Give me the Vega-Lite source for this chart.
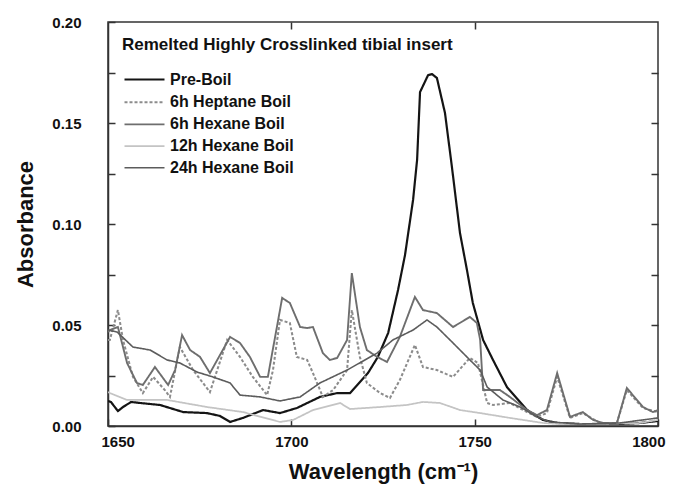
{
  "$schema": "https://vega.github.io/schema/vega-lite/v6.json",
  "width": 550,
  "height": 404,
  "autosize": {"type": "none"},
  "padding": {"left": 108, "top": 22, "right": 17, "bottom": 66},
  "background": "white",
  "config": {
    "font": "Liberation Sans",
    "view": {"stroke": "#333", "strokeWidth": 1.5},
    "axis": {"grid": false, "domainColor": "#333", "domainWidth": 1.5, "tickColor": "#333", "tickWidth": 1.5, "labelColor": "#111", "titleColor": "#111", "labelFont": "Liberation Sans", "titleFont": "Liberation Sans", "labelFontWeight": "bold", "titleFontWeight": "bold", "labelFontSize": 15, "titleFontSize": 22}
  },
  "title": {"text": "Remelted Highly Crosslinked tibial insert", "anchor": "start", "frame": "group", "offset": -39, "dx": 14, "fontSize": 17, "fontWeight": "bold", "font": "Liberation Sans", "color": "#111"},
  "data": {"values": [
    {"series":"Pre-Boil","wavenumber":1650,"absorbance":0.0124},
    {"series":"Pre-Boil","wavenumber":1650.8,"absorbance":0.0119},
    {"series":"Pre-Boil","wavenumber":1652.7,"absorbance":0.0074},
    {"series":"Pre-Boil","wavenumber":1654.1,"absorbance":0.0094},
    {"series":"Pre-Boil","wavenumber":1656.3,"absorbance":0.0119},
    {"series":"Pre-Boil","wavenumber":1658.7,"absorbance":0.0114},
    {"series":"Pre-Boil","wavenumber":1664.2,"absorbance":0.0104},
    {"series":"Pre-Boil","wavenumber":1670.5,"absorbance":0.0069},
    {"series":"Pre-Boil","wavenumber":1677,"absorbance":0.0064},
    {"series":"Pre-Boil","wavenumber":1680.5,"absorbance":0.005},
    {"series":"Pre-Boil","wavenumber":1683.3,"absorbance":0.002},
    {"series":"Pre-Boil","wavenumber":1686.8,"absorbance":0.004},
    {"series":"Pre-Boil","wavenumber":1692.3,"absorbance":0.0079},
    {"series":"Pre-Boil","wavenumber":1696.9,"absorbance":0.0064},
    {"series":"Pre-Boil","wavenumber":1701.5,"absorbance":0.0089},
    {"series":"Pre-Boil","wavenumber":1707.8,"absorbance":0.0144},
    {"series":"Pre-Boil","wavenumber":1712.5,"absorbance":0.0163},
    {"series":"Pre-Boil","wavenumber":1716,"absorbance":0.0163},
    {"series":"Pre-Boil","wavenumber":1720.9,"absorbance":0.0262},
    {"series":"Pre-Boil","wavenumber":1723.6,"absorbance":0.0342},
    {"series":"Pre-Boil","wavenumber":1726.4,"absorbance":0.046},
    {"series":"Pre-Boil","wavenumber":1729.1,"absorbance":0.0673},
    {"series":"Pre-Boil","wavenumber":1731,"absorbance":0.0846},
    {"series":"Pre-Boil","wavenumber":1733.2,"absorbance":0.1119},
    {"series":"Pre-Boil","wavenumber":1734.3,"absorbance":0.1317},
    {"series":"Pre-Boil","wavenumber":1735.1,"absorbance":0.1653},
    {"series":"Pre-Boil","wavenumber":1737.3,"absorbance":0.1737},
    {"series":"Pre-Boil","wavenumber":1738.4,"absorbance":0.1742},
    {"series":"Pre-Boil","wavenumber":1739.7,"absorbance":0.1723},
    {"series":"Pre-Boil","wavenumber":1741.9,"absorbance":0.155},
    {"series":"Pre-Boil","wavenumber":1743.8,"absorbance":0.1282},
    {"series":"Pre-Boil","wavenumber":1746,"absorbance":0.0955},
    {"series":"Pre-Boil","wavenumber":1747.9,"absorbance":0.0772},
    {"series":"Pre-Boil","wavenumber":1749.5,"absorbance":0.0609},
    {"series":"Pre-Boil","wavenumber":1752.3,"absorbance":0.0426},
    {"series":"Pre-Boil","wavenumber":1755,"absorbance":0.0327},
    {"series":"Pre-Boil","wavenumber":1758.8,"absorbance":0.0193},
    {"series":"Pre-Boil","wavenumber":1764.3,"absorbance":0.0079},
    {"series":"Pre-Boil","wavenumber":1768.6,"absorbance":0.003},
    {"series":"Pre-Boil","wavenumber":1772.5,"absorbance":0.0015},
    {"series":"Pre-Boil","wavenumber":1778.7,"absorbance":0.001},
    {"series":"Pre-Boil","wavenumber":1789.6,"absorbance":0.001},
    {"series":"Pre-Boil","wavenumber":1795.1,"absorbance":0.0015},
    {"series":"Pre-Boil","wavenumber":1800,"absorbance":0.0025},
    {"series":"6h Heptane Boil","wavenumber":1650,"absorbance":0.0426},
    {"series":"6h Heptane Boil","wavenumber":1650.5,"absorbance":0.0426},
    {"series":"6h Heptane Boil","wavenumber":1652.7,"absorbance":0.0574},
    {"series":"6h Heptane Boil","wavenumber":1654.1,"absorbance":0.0426},
    {"series":"6h Heptane Boil","wavenumber":1656.8,"absorbance":0.0243},
    {"series":"6h Heptane Boil","wavenumber":1659.5,"absorbance":0.0163},
    {"series":"6h Heptane Boil","wavenumber":1662.3,"absorbance":0.0243},
    {"series":"6h Heptane Boil","wavenumber":1665.5,"absorbance":0.0178},
    {"series":"6h Heptane Boil","wavenumber":1666.9,"absorbance":0.0144},
    {"series":"6h Heptane Boil","wavenumber":1669.6,"absorbance":0.0391},
    {"series":"6h Heptane Boil","wavenumber":1673.2,"absorbance":0.0277},
    {"series":"6h Heptane Boil","wavenumber":1677.8,"absorbance":0.0168},
    {"series":"6h Heptane Boil","wavenumber":1682.5,"absorbance":0.0426},
    {"series":"6h Heptane Boil","wavenumber":1686,"absorbance":0.0342},
    {"series":"6h Heptane Boil","wavenumber":1689.5,"absorbance":0.0243},
    {"series":"6h Heptane Boil","wavenumber":1693.4,"absorbance":0.0153},
    {"series":"6h Heptane Boil","wavenumber":1695,"absorbance":0.0277},
    {"series":"6h Heptane Boil","wavenumber":1696.9,"absorbance":0.0525},
    {"series":"6h Heptane Boil","wavenumber":1699.6,"absorbance":0.051},
    {"series":"6h Heptane Boil","wavenumber":1701.5,"absorbance":0.0342},
    {"series":"6h Heptane Boil","wavenumber":1704.3,"absorbance":0.0327},
    {"series":"6h Heptane Boil","wavenumber":1705.9,"absorbance":0.0262},
    {"series":"6h Heptane Boil","wavenumber":1708.6,"absorbance":0.0144},
    {"series":"6h Heptane Boil","wavenumber":1711.4,"absorbance":0.0178},
    {"series":"6h Heptane Boil","wavenumber":1715.2,"absorbance":0.0277},
    {"series":"6h Heptane Boil","wavenumber":1716.5,"absorbance":0.0574},
    {"series":"6h Heptane Boil","wavenumber":1718.7,"absorbance":0.0342},
    {"series":"6h Heptane Boil","wavenumber":1720.6,"absorbance":0.0213},
    {"series":"6h Heptane Boil","wavenumber":1724.2,"absorbance":0.0163},
    {"series":"6h Heptane Boil","wavenumber":1726.9,"absorbance":0.0139},
    {"series":"6h Heptane Boil","wavenumber":1729.6,"absorbance":0.0228},
    {"series":"6h Heptane Boil","wavenumber":1733.7,"absorbance":0.0401},
    {"series":"6h Heptane Boil","wavenumber":1735.9,"absorbance":0.0292},
    {"series":"6h Heptane Boil","wavenumber":1739.7,"absorbance":0.0277},
    {"series":"6h Heptane Boil","wavenumber":1744.1,"absorbance":0.0243},
    {"series":"6h Heptane Boil","wavenumber":1748.7,"absorbance":0.0337},
    {"series":"6h Heptane Boil","wavenumber":1750.9,"absorbance":0.0312},
    {"series":"6h Heptane Boil","wavenumber":1753.4,"absorbance":0.0114},
    {"series":"6h Heptane Boil","wavenumber":1755,"absorbance":0.0104},
    {"series":"6h Heptane Boil","wavenumber":1759.6,"absorbance":0.0114},
    {"series":"6h Heptane Boil","wavenumber":1764.3,"absorbance":0.0069},
    {"series":"6h Heptane Boil","wavenumber":1767,"absorbance":0.0045},
    {"series":"6h Heptane Boil","wavenumber":1769.7,"absorbance":0.0064},
    {"series":"6h Heptane Boil","wavenumber":1772.5,"absorbance":0.0243},
    {"series":"6h Heptane Boil","wavenumber":1776,"absorbance":0.004},
    {"series":"6h Heptane Boil","wavenumber":1779.5,"absorbance":0.0064},
    {"series":"6h Heptane Boil","wavenumber":1784.2,"absorbance":0.0015},
    {"series":"6h Heptane Boil","wavenumber":1788.8,"absorbance":0.0015},
    {"series":"6h Heptane Boil","wavenumber":1791.5,"absorbance":0.0178},
    {"series":"6h Heptane Boil","wavenumber":1795.9,"absorbance":0.0089},
    {"series":"6h Heptane Boil","wavenumber":1800,"absorbance":0.0069},
    {"series":"6h Hexane Boil","wavenumber":1650,"absorbance":0.0465},
    {"series":"6h Hexane Boil","wavenumber":1650.5,"absorbance":0.0475},
    {"series":"6h Hexane Boil","wavenumber":1652.7,"absorbance":0.049},
    {"series":"6h Hexane Boil","wavenumber":1655.2,"absorbance":0.0312},
    {"series":"6h Hexane Boil","wavenumber":1657.9,"absorbance":0.0213},
    {"series":"6h Hexane Boil","wavenumber":1659.5,"absorbance":0.0203},
    {"series":"6h Hexane Boil","wavenumber":1662.8,"absorbance":0.0292},
    {"series":"6h Hexane Boil","wavenumber":1666.4,"absorbance":0.0203},
    {"series":"6h Hexane Boil","wavenumber":1668.3,"absorbance":0.0277},
    {"series":"6h Hexane Boil","wavenumber":1670.2,"absorbance":0.045},
    {"series":"6h Hexane Boil","wavenumber":1672.4,"absorbance":0.0376},
    {"series":"6h Hexane Boil","wavenumber":1675.1,"absorbance":0.0342},
    {"series":"6h Hexane Boil","wavenumber":1677.8,"absorbance":0.0262},
    {"series":"6h Hexane Boil","wavenumber":1683.3,"absorbance":0.0441},
    {"series":"6h Hexane Boil","wavenumber":1686,"absorbance":0.0411},
    {"series":"6h Hexane Boil","wavenumber":1688.7,"absorbance":0.0342},
    {"series":"6h Hexane Boil","wavenumber":1691.5,"absorbance":0.0243},
    {"series":"6h Hexane Boil","wavenumber":1693.6,"absorbance":0.0243},
    {"series":"6h Hexane Boil","wavenumber":1697.5,"absorbance":0.0634},
    {"series":"6h Hexane Boil","wavenumber":1699.6,"absorbance":0.0609},
    {"series":"6h Hexane Boil","wavenumber":1702.4,"absorbance":0.049},
    {"series":"6h Hexane Boil","wavenumber":1704.3,"absorbance":0.0485},
    {"series":"6h Hexane Boil","wavenumber":1705.9,"absorbance":0.049},
    {"series":"6h Hexane Boil","wavenumber":1708.6,"absorbance":0.0361},
    {"series":"6h Hexane Boil","wavenumber":1710.5,"absorbance":0.0327},
    {"series":"6h Hexane Boil","wavenumber":1712.5,"absorbance":0.0337},
    {"series":"6h Hexane Boil","wavenumber":1715.2,"absorbance":0.0426},
    {"series":"6h Hexane Boil","wavenumber":1716.5,"absorbance":0.0757},
    {"series":"6h Hexane Boil","wavenumber":1718.7,"absorbance":0.049},
    {"series":"6h Hexane Boil","wavenumber":1720.6,"absorbance":0.0376},
    {"series":"6h Hexane Boil","wavenumber":1723.4,"absorbance":0.0342},
    {"series":"6h Hexane Boil","wavenumber":1726.1,"absorbance":0.0317},
    {"series":"6h Hexane Boil","wavenumber":1729.6,"absorbance":0.0441},
    {"series":"6h Hexane Boil","wavenumber":1733.7,"absorbance":0.0639},
    {"series":"6h Hexane Boil","wavenumber":1735.9,"absorbance":0.0574},
    {"series":"6h Hexane Boil","wavenumber":1739.7,"absorbance":0.0559},
    {"series":"6h Hexane Boil","wavenumber":1744.1,"absorbance":0.049},
    {"series":"6h Hexane Boil","wavenumber":1748.7,"absorbance":0.054},
    {"series":"6h Hexane Boil","wavenumber":1750.6,"absorbance":0.051},
    {"series":"6h Hexane Boil","wavenumber":1751.5,"absorbance":0.0426},
    {"series":"6h Hexane Boil","wavenumber":1752.3,"absorbance":0.0178},
    {"series":"6h Hexane Boil","wavenumber":1756.9,"absorbance":0.0178},
    {"series":"6h Hexane Boil","wavenumber":1759.6,"absorbance":0.0144},
    {"series":"6h Hexane Boil","wavenumber":1764.3,"absorbance":0.0079},
    {"series":"6h Hexane Boil","wavenumber":1767,"absorbance":0.0054},
    {"series":"6h Hexane Boil","wavenumber":1769.7,"absorbance":0.0079},
    {"series":"6h Hexane Boil","wavenumber":1772.5,"absorbance":0.0262},
    {"series":"6h Hexane Boil","wavenumber":1776,"absorbance":0.0045},
    {"series":"6h Hexane Boil","wavenumber":1779.5,"absorbance":0.0069},
    {"series":"6h Hexane Boil","wavenumber":1782.3,"absorbance":0.003},
    {"series":"6h Hexane Boil","wavenumber":1785,"absorbance":0.0015},
    {"series":"6h Hexane Boil","wavenumber":1788.8,"absorbance":0.0015},
    {"series":"6h Hexane Boil","wavenumber":1791.5,"absorbance":0.0188},
    {"series":"6h Hexane Boil","wavenumber":1795.9,"absorbance":0.0094},
    {"series":"6h Hexane Boil","wavenumber":1798.6,"absorbance":0.0069},
    {"series":"6h Hexane Boil","wavenumber":1800,"absorbance":0.0079},
    {"series":"12h Hexane Boil","wavenumber":1650,"absorbance":0.0168},
    {"series":"12h Hexane Boil","wavenumber":1650.5,"absorbance":0.0163},
    {"series":"12h Hexane Boil","wavenumber":1655.2,"absorbance":0.0129},
    {"series":"12h Hexane Boil","wavenumber":1666.1,"absorbance":0.0129},
    {"series":"12h Hexane Boil","wavenumber":1677,"absorbance":0.0094},
    {"series":"12h Hexane Boil","wavenumber":1686.8,"absorbance":0.0069},
    {"series":"12h Hexane Boil","wavenumber":1696.9,"absorbance":0.002},
    {"series":"12h Hexane Boil","wavenumber":1700.5,"absorbance":0.003},
    {"series":"12h Hexane Boil","wavenumber":1705.9,"absorbance":0.0079},
    {"series":"12h Hexane Boil","wavenumber":1713.3,"absorbance":0.0114},
    {"series":"12h Hexane Boil","wavenumber":1716,"absorbance":0.0084},
    {"series":"12h Hexane Boil","wavenumber":1724.2,"absorbance":0.0094},
    {"series":"12h Hexane Boil","wavenumber":1731.5,"absorbance":0.0104},
    {"series":"12h Hexane Boil","wavenumber":1735.9,"absorbance":0.0119},
    {"series":"12h Hexane Boil","wavenumber":1740.5,"absorbance":0.0114},
    {"series":"12h Hexane Boil","wavenumber":1746,"absorbance":0.0079},
    {"series":"12h Hexane Boil","wavenumber":1751.5,"absorbance":0.0064},
    {"series":"12h Hexane Boil","wavenumber":1759.6,"absorbance":0.004},
    {"series":"12h Hexane Boil","wavenumber":1768.6,"absorbance":0.0015},
    {"series":"12h Hexane Boil","wavenumber":1773.3,"absorbance":0.001},
    {"series":"12h Hexane Boil","wavenumber":1784.2,"absorbance":0.001},
    {"series":"12h Hexane Boil","wavenumber":1795.1,"absorbance":0.0015},
    {"series":"12h Hexane Boil","wavenumber":1800,"absorbance":0.003},
    {"series":"24h Hexane Boil","wavenumber":1650,"absorbance":0.0475},
    {"series":"24h Hexane Boil","wavenumber":1652.5,"absorbance":0.0465},
    {"series":"24h Hexane Boil","wavenumber":1656.8,"absorbance":0.0391},
    {"series":"24h Hexane Boil","wavenumber":1661.5,"absorbance":0.0376},
    {"series":"24h Hexane Boil","wavenumber":1666.1,"absorbance":0.0327},
    {"series":"24h Hexane Boil","wavenumber":1669.6,"absorbance":0.0312},
    {"series":"24h Hexane Boil","wavenumber":1674.3,"absorbance":0.0267},
    {"series":"24h Hexane Boil","wavenumber":1678.6,"absorbance":0.0243},
    {"series":"24h Hexane Boil","wavenumber":1683.3,"absorbance":0.0213},
    {"series":"24h Hexane Boil","wavenumber":1686,"absorbance":0.0153},
    {"series":"24h Hexane Boil","wavenumber":1691.5,"absorbance":0.0144},
    {"series":"24h Hexane Boil","wavenumber":1696.9,"absorbance":0.0124},
    {"series":"24h Hexane Boil","wavenumber":1702.4,"absorbance":0.0144},
    {"series":"24h Hexane Boil","wavenumber":1707.8,"absorbance":0.0213},
    {"series":"24h Hexane Boil","wavenumber":1715.2,"absorbance":0.0277},
    {"series":"24h Hexane Boil","wavenumber":1723.4,"absorbance":0.0361},
    {"series":"24h Hexane Boil","wavenumber":1727.7,"absorbance":0.0426},
    {"series":"24h Hexane Boil","wavenumber":1733.2,"absorbance":0.0475},
    {"series":"24h Hexane Boil","wavenumber":1737,"absorbance":0.0525},
    {"series":"24h Hexane Boil","wavenumber":1739.7,"absorbance":0.049},
    {"series":"24h Hexane Boil","wavenumber":1744.1,"absorbance":0.0411},
    {"series":"24h Hexane Boil","wavenumber":1748.7,"absorbance":0.0327},
    {"series":"24h Hexane Boil","wavenumber":1751.5,"absorbance":0.0277},
    {"series":"24h Hexane Boil","wavenumber":1753.4,"absorbance":0.0193},
    {"series":"24h Hexane Boil","wavenumber":1757.7,"absorbance":0.0129},
    {"series":"24h Hexane Boil","wavenumber":1762.4,"absorbance":0.0094},
    {"series":"24h Hexane Boil","wavenumber":1767,"absorbance":0.0045},
    {"series":"24h Hexane Boil","wavenumber":1770.5,"absorbance":0.002},
    {"series":"24h Hexane Boil","wavenumber":1778.7,"absorbance":0.001},
    {"series":"24h Hexane Boil","wavenumber":1789.6,"absorbance":0.0015},
    {"series":"24h Hexane Boil","wavenumber":1800,"absorbance":0.004}
  ]},
  "layer": [
    {
      "mark": {"type": "line", "clip": true},
      "encoding": {
        "x": {"field": "wavenumber", "type": "quantitative", "scale": {"domain": [1650, 1800], "nice": false, "zero": false},
              "axis": {"orient": "bottom", "values": [1650, 1700, 1750, 1800], "format": "d", "labelFlush": true, "labelFlushOffset": 7, "tickSize": -7, "labelPadding": 15, "title": "Wavelength (cm⁻¹)", "titlePadding": 12}},
        "y": {"field": "absorbance", "type": "quantitative", "scale": {"domain": [0, 0.2], "nice": false},
              "axis": {"orient": "left", "values": [0, 0.025, 0.05, 0.075, 0.1, 0.125, 0.15, 0.175, 0.2], "tickSize": -7, "labelPadding": 34, "labelExpr": "round(datum.value*40) % 2 == 0 ? format(datum.value, '.2f') : ''", "title": "Absorbance", "titlePadding": 14}},
        "color": {"field": "series", "type": "nominal",
                  "scale": {"domain": ["Pre-Boil", "6h Heptane Boil", "6h Hexane Boil", "12h Hexane Boil", "24h Hexane Boil"], "range": ["#141414", "#8c8c8c", "#6e6e6e", "#c4c4c4", "#5c5c5c"]},
                  "legend": {"title": null, "orient": "none", "legendX": 27, "legendY": 48, "padding": 0, "symbolType": "M-2.5,0H2.5", "symbolSize": 256, "symbolStrokeWidth": 2, "rowPadding": 4.7, "labelOffset": 16, "labelFontSize": 16, "labelFontWeight": "bold", "labelColor": "#111", "labelFont": "Liberation Sans",
                             "labelExpr": "indexof(datum.label, '6h') == 0 ? '\u00a0\u00a0' + datum.label : datum.label"}},
        "strokeDash": {"field": "series", "type": "nominal",
                       "scale": {"domain": ["Pre-Boil", "6h Heptane Boil", "6h Hexane Boil", "12h Hexane Boil", "24h Hexane Boil"], "range": [[1, 0], [3, 2], [1, 0], [1, 0], [1, 0]]},
                       "legend": null},
        "strokeWidth": {"field": "series", "type": "nominal",
                        "scale": {"domain": ["Pre-Boil", "6h Heptane Boil", "6h Hexane Boil", "12h Hexane Boil", "24h Hexane Boil"], "range": [2.2, 1.6, 1.8, 1.8, 2]},
                        "legend": null}
      }
    },
    {
      "mark": {"type": "point", "opacity": 0},
      "encoding": {
        "x": {"field": "wavenumber", "type": "quantitative", "axis": {"orient": "top", "values": [1700, 1750], "tickSize": -7, "labels": false, "title": null, "domain": false}},
        "y": {"field": "absorbance", "type": "quantitative", "axis": {"orient": "right", "values": [0.025, 0.05, 0.075, 0.1, 0.125, 0.15, 0.175], "tickSize": -7, "labels": false, "title": null, "domain": false}}
      }
    }
  ],
  "resolve": {"axis": {"x": "independent", "y": "independent"}}
}
